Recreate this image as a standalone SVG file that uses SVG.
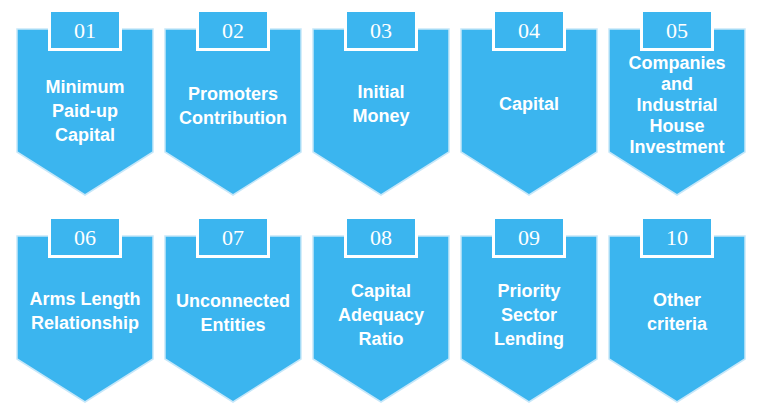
<svg xmlns="http://www.w3.org/2000/svg" width="772" height="420" viewBox="0 0 772 420">
<defs>
<style>
.shape{fill:#3bb5ef;stroke:#c6e7f9;stroke-width:1.5}
.tab{fill:#3bb5ef;stroke:#ffffff;stroke-width:3}
.num{font-family:"Liberation Serif",serif;font-size:22px;fill:#ffffff;text-anchor:middle}
.lbl{font-family:"Liberation Sans",Arial,sans-serif;font-size:18px;font-weight:bold;fill:#ffffff;text-anchor:middle}
</style>
<path id="card" d="M0,0 H136 V123 L68,166 L0,123 Z"/>
</defs>
<rect width="772" height="420" fill="#ffffff"/>
<g id="node-01" transform="translate(17,29)">
<use href="#card" class="shape"/>
<rect class="tab" x="32.5" y="-18.5" width="71" height="39"/>
<text class="num" x="68" y="8.5">01</text>
<text class="lbl" x="68" y="63.5">Minimum</text>
<text class="lbl" x="68" y="87.5">Paid-up</text>
<text class="lbl" x="68" y="111.5">Capital</text>
</g>
<g id="node-02" transform="translate(165,29)">
<use href="#card" class="shape"/>
<rect class="tab" x="32.5" y="-18.5" width="71" height="39"/>
<text class="num" x="68" y="8.5">02</text>
<text class="lbl" x="68" y="70.5">Promoters</text>
<text class="lbl" x="68" y="94.5">Contribution</text>
</g>
<g id="node-03" transform="translate(313,29)">
<use href="#card" class="shape"/>
<rect class="tab" x="32.5" y="-18.5" width="71" height="39"/>
<text class="num" x="68" y="8.5">03</text>
<text class="lbl" x="68" y="68.5">Initial</text>
<text class="lbl" x="68" y="92.5">Money</text>
</g>
<g id="node-04" transform="translate(461,29)">
<use href="#card" class="shape"/>
<rect class="tab" x="32.5" y="-18.5" width="71" height="39"/>
<text class="num" x="68" y="8.5">04</text>
<text class="lbl" x="68" y="80.5">Capital</text>
</g>
<g id="node-05" transform="translate(609,29)">
<use href="#card" class="shape"/>
<rect class="tab" x="32.5" y="-18.5" width="71" height="39"/>
<text class="num" x="68" y="8.5">05</text>
<text class="lbl" x="68" y="39.5">Companies</text>
<text class="lbl" x="68" y="60.5">and</text>
<text class="lbl" x="68" y="81.5">Industrial</text>
<text class="lbl" x="68" y="102.5">House</text>
<text class="lbl" x="68" y="123.5">Investment</text>
</g>
<g id="node-06" transform="translate(17,236)">
<use href="#card" class="shape"/>
<rect class="tab" x="32.5" y="-18.5" width="71" height="39"/>
<text class="num" x="68" y="9">06</text>
<text class="lbl" x="68" y="68.5">Arms Length</text>
<text class="lbl" x="68" y="92.5">Relationship</text>
</g>
<g id="node-07" transform="translate(165,236)">
<use href="#card" class="shape"/>
<rect class="tab" x="32.5" y="-18.5" width="71" height="39"/>
<text class="num" x="68" y="9">07</text>
<text class="lbl" x="68" y="70.5">Unconnected</text>
<text class="lbl" x="68" y="94.5">Entities</text>
</g>
<g id="node-08" transform="translate(313,236)">
<use href="#card" class="shape"/>
<rect class="tab" x="32.5" y="-18.5" width="71" height="39"/>
<text class="num" x="68" y="9">08</text>
<text class="lbl" x="68" y="60.5">Capital</text>
<text class="lbl" x="68" y="84.5">Adequacy</text>
<text class="lbl" x="68" y="108.5">Ratio</text>
</g>
<g id="node-09" transform="translate(461,236)">
<use href="#card" class="shape"/>
<rect class="tab" x="32.5" y="-18.5" width="71" height="39"/>
<text class="num" x="68" y="9">09</text>
<text class="lbl" x="68" y="60.5">Priority</text>
<text class="lbl" x="68" y="84.5">Sector</text>
<text class="lbl" x="68" y="108.5">Lending</text>
</g>
<g id="node-10" transform="translate(609,236)">
<use href="#card" class="shape"/>
<rect class="tab" x="32.5" y="-18.5" width="71" height="39"/>
<text class="num" x="68" y="9">10</text>
<text class="lbl" x="68" y="69.5">Other</text>
<text class="lbl" x="68" y="93.5">criteria</text>
</g>
<g id="connectors"></g>
</svg>
